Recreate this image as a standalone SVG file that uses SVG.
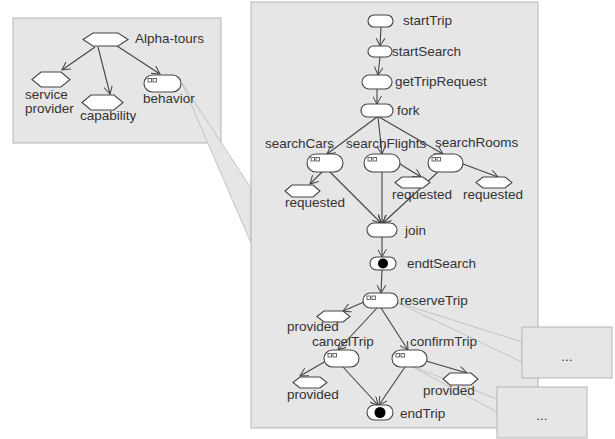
<svg xmlns="http://www.w3.org/2000/svg" width="615" height="439" viewBox="0 0 615 439">
<defs>
<marker id="arr" viewBox="0 0 10 10" refX="9" refY="5" markerWidth="9" markerHeight="9" markerUnits="userSpaceOnUse" orient="auto">
<path d="M0,0 L9,5 L0,10" fill="none" stroke="#444" stroke-width="1.1"/>
</marker>
<style>
.panel{fill:#e6e6e6;stroke:#b5b5b5;stroke-width:1}
.wedge{fill:#e6e6e6;stroke:#c2c2c2;stroke-width:1}
.node{fill:#fff;stroke:#444;stroke-width:1.1}
.sq{fill:#fff;stroke:#444;stroke-width:0.8}
.dot{fill:#000}
.conn line{stroke:#444;stroke-width:1.1;marker-end:url(#arr)}
text{font-family:"Liberation Sans",Arial,sans-serif;font-size:13.5px;fill:#333}
.dots{text-anchor:middle}
</style>
</defs>
<g id="panels">
<rect class="panel" x="13" y="18" width="208" height="125"/>
<polygon class="wedge" points="182,83 251,188 251,243"/>
<rect class="panel" x="251" y="2" width="287" height="426"/>
<polygon class="wedge" points="396,302 522,342 522,362"/>
<polygon class="wedge" points="411,366 497,399 497,412"/>
<rect class="panel" x="522" y="327" width="90" height="51"/>
<rect class="panel" x="497" y="387" width="90" height="51"/>
<text class="dots" x="567" y="361">...</text>
<text class="dots" x="542" y="420">...</text>
</g>
<g id="connectors" class="conn">
<line x1="95" y1="47" x2="62" y2="70"/>
<line x1="98" y1="47" x2="110" y2="94"/>
<line x1="117" y1="46" x2="160" y2="74"/>
<line x1="381" y1="27" x2="380" y2="46"/>
<line x1="380" y1="57" x2="378" y2="75"/>
<line x1="377" y1="89" x2="377" y2="104"/>
<line x1="377" y1="117" x2="327" y2="154"/>
<line x1="378" y1="117" x2="382" y2="154"/>
<line x1="379" y1="117" x2="443" y2="154"/>
<line x1="322" y1="172" x2="310" y2="184"/>
<line x1="400" y1="164" x2="421" y2="177"/>
<line x1="463" y1="164" x2="498" y2="177"/>
<line x1="330" y1="172" x2="381" y2="223"/>
<line x1="382" y1="172" x2="382" y2="223"/>
<line x1="438" y1="172" x2="383" y2="223"/>
<line x1="382" y1="237" x2="382" y2="257"/>
<line x1="382" y1="270" x2="381" y2="293"/>
<line x1="364" y1="302" x2="343" y2="311"/>
<line x1="377" y1="308" x2="338" y2="350"/>
<line x1="381" y1="308" x2="408" y2="350"/>
<line x1="326" y1="361" x2="300" y2="376"/>
<line x1="426" y1="361" x2="467" y2="373"/>
<line x1="343" y1="367" x2="378" y2="405"/>
<line x1="405" y1="367" x2="379" y2="405"/>
</g>
<g id="alpha-tours">
<polygon class="node" points="83,39.5 93,33 118,33 128,39.5 118,46 93,46"/>
<text x="135" y="43">Alpha-tours</text>
</g>
<g id="service-provider">
<polygon class="node" points="32,79.5 41,72 61,72 70,79.5 61,87 41,87"/>
<text x="25" y="99">service</text>
<text x="25" y="112.5">provider</text>
</g>
<g id="capability">
<polygon class="node" points="82,102.5 91,95 114,95 123,102.5 114,110 91,110"/>
<text x="80" y="120">capability</text>
</g>
<g id="behavior">
<rect class="node" x="144" y="75" width="37" height="17" rx="8.5"/>
<rect class="sq" x="148" y="78.5" width="3.5" height="3.5"/><rect class="sq" x="153" y="78.5" width="3.5" height="3.5"/>
<text x="143" y="103">behavior</text>
</g>
<g id="startTrip">
<rect class="node" x="368" y="15" width="25" height="12" rx="6"/>
<text x="403" y="24.5">startTrip</text>
</g>
<g id="startSearch">
<rect class="node" x="368" y="46" width="24" height="11" rx="5.5"/>
<text x="392" y="55.5">startSearch</text>
</g>
<g id="getTripRequest">
<rect class="node" x="362" y="75" width="30" height="14" rx="7"/>
<text x="395" y="86">getTripRequest</text>
</g>
<g id="fork">
<rect class="node" x="361" y="104" width="32" height="13" rx="6.5"/>
<text x="397" y="115">fork</text>
</g>
<g id="searchCars">
<rect class="node" x="307" y="154" width="36" height="18" rx="9"/>
<rect class="sq" x="311" y="157.5" width="3.5" height="3.5"/><rect class="sq" x="316" y="157.5" width="3.5" height="3.5"/>
<text x="265" y="148">searchCars</text>
</g>
<g id="searchFlights">
<rect class="node" x="364" y="154" width="36" height="18" rx="9"/>
<rect class="sq" x="368" y="157.5" width="3.5" height="3.5"/><rect class="sq" x="373" y="157.5" width="3.5" height="3.5"/>
<text x="346" y="148">searchFlights</text>
</g>
<g id="searchRooms">
<rect class="node" x="428" y="154" width="35" height="18" rx="9"/>
<rect class="sq" x="432" y="157.5" width="3.5" height="3.5"/><rect class="sq" x="437" y="157.5" width="3.5" height="3.5"/>
<text x="435" y="147">searchRooms</text>
</g>
<g id="requested-cars">
<polygon class="node" points="285,191 292,185 313,185 320,191 313,197 292,197"/>
<text x="285" y="207">requested</text>
</g>
<g id="requested-flights">
<polygon class="node" points="395,182.5 402,177 423,177 430,182.5 423,188 402,188"/>
<text x="392" y="199">requested</text>
</g>
<g id="requested-rooms">
<polygon class="node" points="476,182.5 483,177 505,177 512,182.5 505,188 483,188"/>
<text x="463" y="199">requested</text>
</g>
<g id="join">
<rect class="node" x="367" y="223" width="30" height="14" rx="7"/>
<text x="405" y="235">join</text>
</g>
<g id="endtSearch">
<rect class="node" x="370" y="257" width="26" height="13" rx="6.5"/>
<circle class="dot" cx="383" cy="263.5" r="5"/>
<text x="407" y="267.5">endtSearch</text>
</g>
<g id="reserveTrip">
<rect class="node" x="363" y="293" width="35" height="15" rx="7.5"/>
<rect class="sq" x="367" y="296" width="3.5" height="3.5"/><rect class="sq" x="372" y="296" width="3.5" height="3.5"/>
<text x="400" y="304.5">reserveTrip</text>
</g>
<g id="provided-reserve">
<polygon class="node" points="317,316.5 324,311 343,311 350,316.5 343,322 324,322"/>
<text x="287" y="331">provided</text>
</g>
<g id="cancelTrip">
<rect class="node" x="324" y="350" width="35" height="17" rx="8.5"/>
<rect class="sq" x="328" y="353.5" width="3.5" height="3.5"/><rect class="sq" x="333" y="353.5" width="3.5" height="3.5"/>
<text x="312" y="345.5">cancelTrip</text>
</g>
<g id="confirmTrip">
<rect class="node" x="392" y="350" width="35" height="17" rx="8.5"/>
<rect class="sq" x="396" y="353.5" width="3.5" height="3.5"/><rect class="sq" x="401" y="353.5" width="3.5" height="3.5"/>
<text x="410" y="345.5">confirmTrip</text>
</g>
<g id="provided-cancel">
<polygon class="node" points="293,382.5 300,377 320,377 327,382.5 320,388 300,388"/>
<text x="287" y="399">provided</text>
</g>
<g id="provided-confirm">
<polygon class="node" points="443,379 450,373 471,373 478,379 471,385 450,385"/>
<text x="423" y="395">provided</text>
</g>
<g id="endTrip">
<rect class="node" x="367" y="405" width="26" height="15" rx="7.5"/>
<circle class="dot" cx="380" cy="412.5" r="5.5"/>
<text x="400" y="418">endTrip</text>
</g>
</svg>
